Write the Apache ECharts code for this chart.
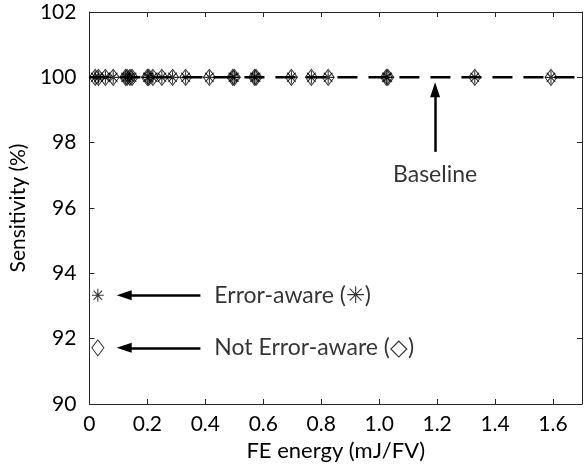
<!DOCTYPE html>
<html><head><meta charset="utf-8">
<script src="https://cdn.jsdelivr.net/npm/echarts@6/dist/echarts.min.js"></script>
<style>html,body{margin:0;padding:0;background:#fff}#c{width:585px;height:468px}</style>
</head><body><div id="c"></div>
<script>
// Data
var energies = [0.02, 0.031, 0.055, 0.082, 0.125, 0.13, 0.14, 0.147, 0.2, 0.205, 0.219, 0.25, 0.287, 0.332, 0.414, 0.495, 0.5, 0.57, 0.575, 0.697, 0.766, 0.824, 1.025, 1.03, 1.33, 1.593];
var sensitivity = [100, 100, 100, 100, 100, 100, 100, 100, 100, 100, 100, 100, 100, 100, 100, 100, 100, 100, 100, 100, 100, 100, 100, 100, 100, 100];
var baselineX = [0, 1.7];
var baselineY = [100, 100];
var xTickLabels = ['0', '0.2', '0.4', '0.6', '0.8', '1.0', '1.2', '1.4', '1.6'];
var yTickLabels = ['90', '92', '94', '96', '98', '100', '102'];
var legendAware = [0.029, 93.33];
var legendNotAware = [0.029, 91.72];
var arrowAware = [[0.383, 93.33], [0.12, 93.33]];
var arrowNotAware = [[0.383, 91.72], [0.12, 91.72]];
var arrowBaseline = [[1.193, 97.72], [1.193, 99.62]];
var textAware = [0.431, 93.33, 'Error-aware (\u2733)'];
var textNotAware = [0.431, 91.72, 'Not Error-aware (\u25C7)'];
var textBaseline = [1.193, 97.02, 'Baseline'];

var FONT = 'Lato';
var TXT = '#000';
var AST = 'path://M5 0L5 10M0 5L10 5M1.46 1.46L8.54 8.54M8.54 1.46L1.46 8.54';

var pts = energies.map(function (e, i) { return [e, sensitivity[i]]; });

var chart = echarts.init(document.getElementById('c'), null, {renderer: 'canvas'});
var axisCommon = {
  axisLine: {show: true, onZero: false, lineStyle: {color: '#262626', width: 1}},
  axisTick: {show: true, inside: true, length: 5, lineStyle: {color: '#262626'}},
  splitLine: {show: false}
};
function arrowLine(seg) {
  return [{coord: seg[0]}, {coord: seg[1]}];
}
chart.setOption({
  animation: false,
  backgroundColor: '#fff',
  grid: {left: 85, top: 12, right: 3, bottom: 64, containLabel: false},
  xAxis: [
    Object.assign({
      type: 'value', min: 0, max: 1.7, interval: 0.2, position: 'bottom',
      name: 'FE energy (mJ/FV)', nameLocation: 'middle', nameGap: 36,
      nameTextStyle: {fontFamily: FONT, fontSize: 22, color: TXT},
      axisLabel: {fontFamily: FONT, fontSize: 21, color: TXT, margin: 10, showMaxLabel: false,
        formatter: function (v) { var i = Math.round(v / 0.2); return (Math.abs(v - i * 0.2) < 1e-6 && i < xTickLabels.length) ? xTickLabels[i] : ''; }}
    }, axisCommon),
    Object.assign({
      type: 'value', min: 0, max: 1.7, interval: 0.2, position: 'top',
      axisLabel: {show: false}
    }, axisCommon)
  ],
  yAxis: [
    Object.assign({
      type: 'value', min: 90, max: 102, interval: 2, position: 'left',
      name: 'Sensitivity (%)', nameLocation: 'middle', nameGap: 53, nameRotate: 90,
      nameTextStyle: {fontFamily: FONT, fontSize: 21, color: TXT},
      axisLabel: {fontFamily: FONT, fontSize: 21, color: TXT, margin: 13,
        formatter: function (v) { var i = Math.round((v - 90) / 2); return yTickLabels[i] || ''; }}
    }, axisCommon),
    Object.assign({
      type: 'value', min: 90, max: 102, interval: 2, position: 'right',
      axisLabel: {show: false}
    }, axisCommon)
  ],
  series: [
    {
      type: 'line', name: 'Baseline', xAxisIndex: 0, yAxisIndex: 0,
      data: baselineX.map(function (x, i) { return [x, baselineY[i]]; }),
      symbol: 'none', lineStyle: {color: '#000', width: 2.5, type: [20, 11]},
      z: 2
    },
    {
      type: 'scatter', name: 'Not Error-aware',
      data: pts.concat([legendNotAware]),
      symbol: 'diamond', symbolSize: [12, 16],
      itemStyle: {color: 'rgba(255,255,255,0)', borderColor: '#000', borderWidth: 1},
      z: 3
    },
    {
      type: 'scatter', name: 'Error-aware',
      data: pts.concat([legendAware]),
      symbol: AST, symbolSize: [12, 13], symbolKeepAspect: false,
      itemStyle: {color: 'rgba(255,255,255,0)', borderColor: '#000', borderWidth: 1.1},
      z: 4,
      markLine: {
        silent: true, symbol: ['none', 'triangle'], symbolSize: [10, 15],
        label: {show: false},
        lineStyle: {color: '#000', width: 2.5, type: 'solid'},
        data: [arrowLine(arrowAware), arrowLine(arrowNotAware), arrowLine(arrowBaseline)]
      }
    },
    {
      type: 'scatter', name: 'labels', symbolSize: 0,
      data: [
        {value: textAware, label: {position: 'right', align: 'left'}},
        {value: textNotAware, label: {position: 'right', align: 'left'}},
        {value: textBaseline, label: {position: 'inside', align: 'center'}}
      ],
      label: {show: true, formatter: function (p) { return p.value[2]; },
        fontFamily: FONT, fontSize: 23, color: TXT, distance: 0},
      z: 5
    }
  ]
});
</script>
</body></html>
